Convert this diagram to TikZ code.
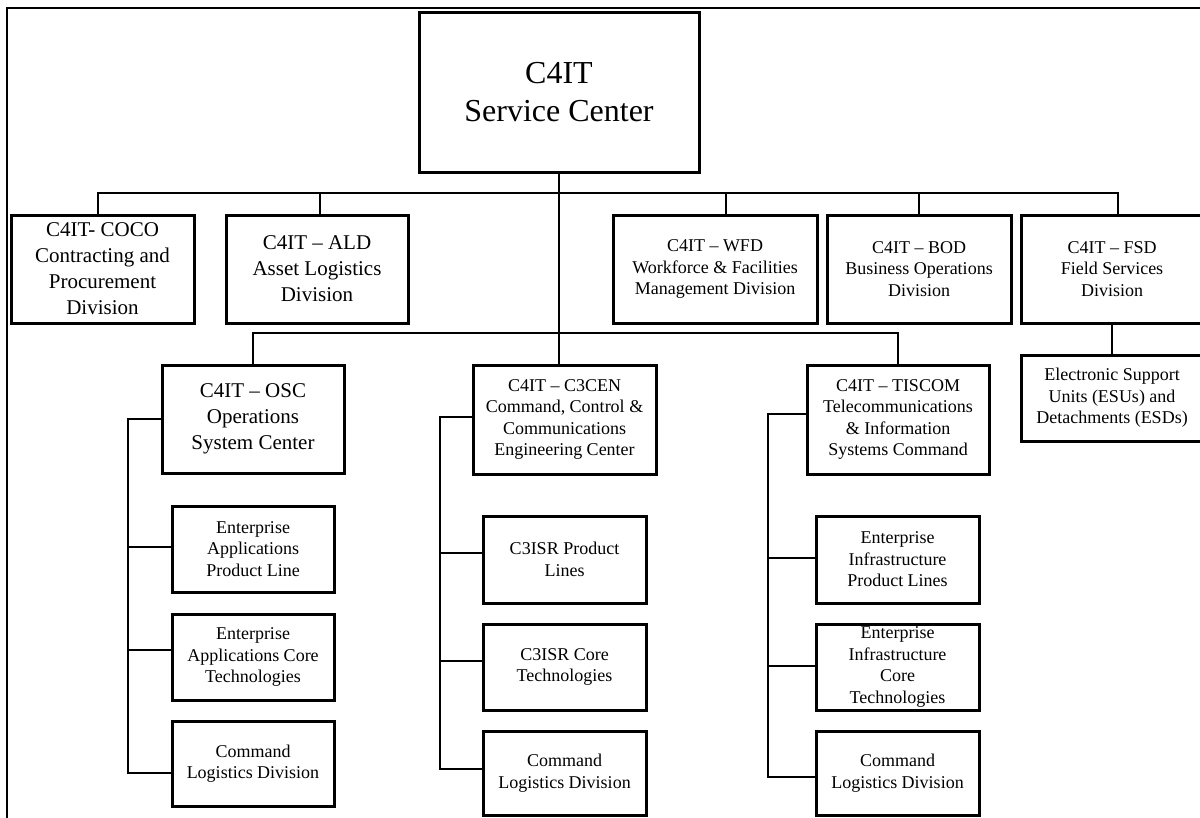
\documentclass[tikz,border=0pt]{standalone}
\usepackage{fontspec}
\setmainfont{Liberation Serif}
\newcommand\fsTop{\fontsize{32}{38}\selectfont}
\newcommand\fsMid{\fontsize{21}{26}\selectfont}
\newcommand\fsSml{\fontsize{18}{21.5}\selectfont}
\begin{document}
\begin{tikzpicture}[x=1pt,y=-1pt,
  box/.style={draw, line width=3pt, align=center, inner sep=0pt, font=\fsSml},
  conn/.style={draw, line width=1.4pt},
  frame/.style={draw, line width=2pt}]
\useasboundingbox (0,0) rectangle (1200,817);
\clip (0,0) rectangle (1200,817);
\draw[frame] (7,830) -- (7,8) -- (1210,8);
% top
\node[box, font=\fsTop, minimum width=280pt, minimum height=160pt] (top) at (559,92) {C4IT\\Service Center};
% level 1
\node[box, font=\fsMid, minimum width=183pt, minimum height=108pt] (coco) at (102.5,269) {C4IT- COCO\\Contracting and\\Procurement\\Division};
\node[box, font=\fsMid, minimum width=182pt, minimum height=108pt] (ald) at (317,269) {C4IT -- ALD\\Asset Logistics\\Division};
\node[box, minimum width=204pt, minimum height=108pt] (wfd) at (715,269) {C4IT -- WFD\\Workforce \& Facilities\\Management Division};
\node[box, minimum width=184pt, minimum height=108pt] (bod) at (919,269) {C4IT -- BOD\\Business Operations\\Division};
\node[box, minimum width=182pt, minimum height=108pt] (fsd) at (1112,269) {C4IT -- FSD\\Field Services\\Division};
\node[box, minimum width=182pt, minimum height=86pt] (esu) at (1112,398) {Electronic Support\\Units (ESUs) and\\Detachments (ESDs)};
% level 2
\node[box, font=\fsMid, minimum width=182pt, minimum height=108pt] (osc) at (253,419) {C4IT -- OSC\\Operations\\System Center};
\node[box, minimum width=183pt, minimum height=109pt] (c3cen) at (564.5,419.5) {C4IT -- C3CEN\\Command, Control \&\\Communications\\Engineering Center};
\node[box, minimum width=182pt, minimum height=109pt] (tiscom) at (898,419.5) {C4IT -- TISCOM\\Telecommunications\\\& Information\\Systems Command};
% OSC children
\node[box, minimum width=162pt, minimum height=86pt] (oa) at (253,549) {Enterprise\\Applications\\Product Line};
\node[box, minimum width=162pt, minimum height=86pt] (ob) at (253,657) {Enterprise\\Applications Core\\Technologies};
\node[box, minimum width=162pt, minimum height=85pt] (oc) at (253,763.5) {Command\\Logistics Division};
% C3CEN children
\node[box, minimum width=163pt, minimum height=87pt] (ca) at (564.5,559.5) {C3ISR Product\\Lines};
\node[box, minimum width=163pt, minimum height=86pt] (cb) at (564.5,667) {C3ISR Core\\Technologies};
\node[box, minimum width=163pt, minimum height=84pt] (cc) at (564.5,773) {Command\\Logistics Division};
% TISCOM children
\node[box, minimum width=163pt, minimum height=87pt] (ta) at (897.5,559.5) {Enterprise\\Infrastructure\\Product Lines};
\node[box, minimum width=163pt, minimum height=86pt] (tb) at (897.5,667) {Enterprise\\Infrastructure\\Core\\Technologies};
\node[box, minimum width=163pt, minimum height=84pt] (tc) at (897.5,773) {Command\\Logistics Division};
% buses
\coordinate (b1) at (0,193);
\coordinate (b2) at (0,333);
\coordinate (sO) at (128,0);
\coordinate (sC) at (440,0);
\coordinate (sT) at (768,0);
\draw[conn] ([xshift=-4.5pt]coco.north) -- ([xshift=-4.5pt]coco.north |- b1) -- ([xshift=6pt]fsd.north |- b1) -- ([xshift=6pt]fsd.north);
\draw[conn] ([xshift=3pt]ald.north) -- ([xshift=3pt]ald.north |- b1);
\draw[conn] ([xshift=11pt]wfd.north) -- ([xshift=11pt]wfd.north |- b1);
\draw[conn] (bod.north) -- (bod.north |- b1);
\draw[conn] (top.south) -- ([xshift=-5.5pt]c3cen.north);
\draw[conn] (fsd.south) -- (esu.north);
\draw[conn] (osc.north) -- (osc.north |- b2) -- (tiscom.north |- b2) -- (tiscom.north);
% OSC spine
\draw[conn] (osc.west) -- (osc.west -| sO) |- ([yshift=-9.5pt]oc.west);
\draw[conn] ([yshift=2pt]oa.west) -- ([yshift=2pt]oa.west -| sO);
\draw[conn] ([yshift=7pt]ob.west) -- ([yshift=7pt]ob.west -| sO);
% C3CEN spine
\draw[conn] ([yshift=2.5pt]c3cen.west) -- ([yshift=2.5pt]c3cen.west -| sC) |- ([yshift=4pt]cc.west);
\draw[conn] ([yshift=6.5pt]ca.west) -- ([yshift=6.5pt]ca.west -| sC);
\draw[conn] ([yshift=6pt]cb.west) -- ([yshift=6pt]cb.west -| sC);
% TISCOM spine
\draw[conn] ([yshift=5.5pt]tiscom.west) -- ([yshift=5.5pt]tiscom.west -| sT) |- ([yshift=-4pt]tc.west);
\draw[conn] ([yshift=1.5pt]ta.west) -- ([yshift=1.5pt]ta.west -| sT);
\draw[conn] ([yshift=1pt]tb.west) -- ([yshift=1pt]tb.west -| sT);
\end{tikzpicture}
\end{document}
